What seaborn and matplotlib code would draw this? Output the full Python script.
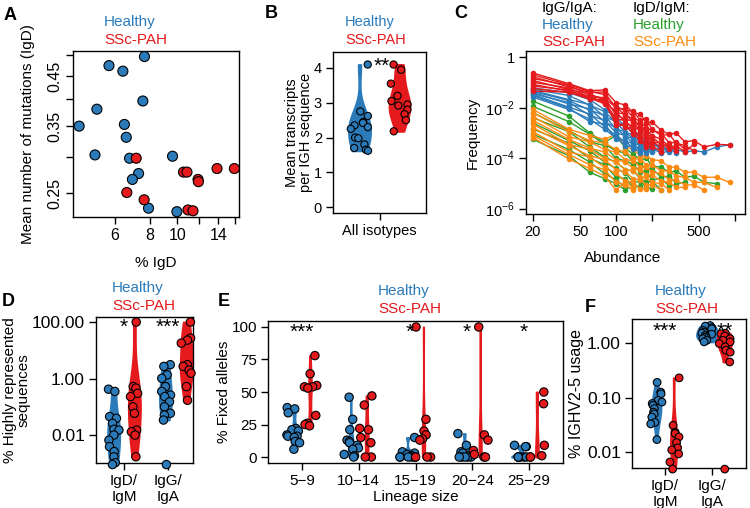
import numpy as np
import pandas as pd
import matplotlib
matplotlib.use('Agg')
import matplotlib.pyplot as plt
from matplotlib.ticker import NullLocator
from matplotlib.collections import PolyCollection
import seaborn as sns

# ---------------- data ----------------
# A: % IgD vs mean number of IgD mutations
a_healthy_igd = [4.47, 5.17, 5.09, 5.71, 6.40, 7.64, 7.54, 6.48, 6.58, 6.76, 9.62, 7.28, 6.92, 7.90, 9.97]
a_healthy_mut = [0.350, 0.381, 0.303, 0.474, 0.461, 0.496, 0.397, 0.353, 0.331, 0.298, 0.301, 0.276, 0.268, 0.232, 0.228]
a_ssc_igd = [7.14, 6.61, 7.62, 10.53, 10.83, 11.86, 11.90, 13.86, 15.98, 10.92, 11.38]
a_ssc_mut = [0.298, 0.251, 0.242, 0.278, 0.278, 0.268, 0.265, 0.283, 0.283, 0.230, 0.229]

# B: mean transcripts per IGH sequence
b_healthy = [4.10, 2.75, 2.62, 2.45, 2.42, 2.35, 2.30, 2.25, 2.00, 1.98, 1.80, 1.70, 1.65, 1.62]
b_ssc = [4.10, 3.95, 3.55, 3.20, 3.05, 2.95, 2.92, 2.80, 2.67, 2.50, 2.18]

# C: abundance / frequency curves (log10 frequency at each abundance)
c_abundance = [20, 40, 60, 80, 100, 120, 140, 160, 180, 200, 240, 280, 320, 380, 450, 550, 700, 900]
c_ssc_igga = [
    [-0.63, -1.05, -1.33, -1.30, -1.80, -1.90, -2.20, -2.25, -2.60, -2.55, -2.90, -3.05, -3.00, -3.35, -3.30, -3.55, -3.45, -3.47],
    [-0.70, -1.10, -1.36, -1.48, -1.97, -2.10, -2.15, -2.50, -2.45, -2.85, -3.10, -3.05, -3.40, -3.50, -3.70],
    [-0.78, -1.18, -1.40, -1.38, -2.05, -2.05, -2.40, -2.55, -2.80, -2.90, -3.00, -3.40, -3.35, -3.65],
    [-0.85, -1.12, -1.50, -1.65, -1.98, -2.30, -2.45, -2.75, -2.85, -3.10, -3.25, -3.55, -3.50, -3.75, -3.45],
    [-0.93, -1.28, -1.45, -1.72, -2.20, -2.25, -2.60, -2.70, -3.05, -3.15, -3.45, -3.50, -3.70],
    [-1.00, -1.22, -1.58, -1.60, -2.30, -2.45, -2.55, -2.95, -3.00, -3.35, -3.40, -3.65, -3.55],
    [-1.08, -1.35, -1.55, -1.80, -2.15, -2.60, -2.75, -2.90, -3.25, -3.30, -3.60],
    [-1.15, -1.30, -1.63, -1.75, -2.45, -2.50, -2.90, -3.15, -3.20, -3.55],
    [-1.24, -1.40, -1.62, -1.85, -2.55, -2.75, -2.85, -3.25, -3.45, -3.50, -3.75],
    [-1.35, -1.38, -1.67, -1.70, -2.70, -2.70, -3.05, -3.30, -3.55],
]
c_healthy_igga = [
    [-1.22, -1.41, -1.68, -2.08, -2.37, -2.75, -2.85, -3.15, -3.25, -3.45, -3.50, -3.70, -3.65, -3.75, -3.70, -3.75, -3.55, -3.47],
    [-1.27, -1.52, -1.90, -2.15, -2.60, -2.70, -3.05, -3.15, -3.45, -3.40, -3.65, -3.60, -3.80],
    [-1.32, -1.68, -1.88, -2.35, -2.55, -3.00, -3.05, -3.35, -3.40, -3.65, -3.60, -3.75],
    [-1.36, -1.72, -2.10, -2.30, -2.85, -2.95, -3.25, -3.30, -3.60, -3.60, -3.80, -3.70],
    [-1.40, -1.85, -2.05, -2.55, -2.80, -3.15, -3.20, -3.55, -3.50, -3.75],
    [-1.45, -1.80, -2.30, -2.50, -3.00, -3.10, -3.45, -3.45, -3.75, -3.70],
    [-1.48, -1.98, -2.25, -2.75, -3.10, -3.35, -3.40, -3.70, -3.65],
    [-1.52, -2.02, -2.55, -2.65, -3.25, -3.30, -3.65, -3.60, -3.80],
    [-1.58, -2.07, -2.45, -2.85, -3.20, -3.50, -3.55, -3.80],
]
c_healthy_igdm = [
    [-1.74, -2.33, -3.00, -3.37, -3.10, -3.60, -3.85, -4.05, -4.00, -4.30, -4.35, -4.55, -4.50, -4.75, -4.70, -4.95, -5.00],
    [-1.95, -2.55, -3.05, -3.45, -3.70, -3.80, -4.15, -4.20, -4.45, -4.40, -4.75, -4.70, -5.00, -4.95],
    [-2.20, -2.90, -3.35, -3.50, -4.00, -4.10, -4.25, -4.55, -4.50, -4.85, -4.80, -5.10],
    [-2.40, -2.95, -3.55, -3.95, -4.15, -4.45, -4.50, -4.80, -4.95, -4.90, -5.25],
    [-2.60, -3.30, -3.70, -4.15, -4.40, -4.60, -4.95, -4.90, -5.15, -5.20],
    [-2.85, -3.40, -4.00, -4.25, -4.75, -4.80, -5.15, -5.10],
    [-3.05, -3.65, -4.15, -4.60, -4.85, -5.15, -5.20],
    [-3.25, -3.90, -4.55, -4.80, -5.00, -5.25],
]
c_ssc_igdm = [
    [-2.07, -2.85, -3.10, -3.25, -3.05, -3.55, -3.65, -3.90, -3.90, -4.05, -4.10, -4.35, -4.35, -4.55, -4.55, -4.75, -4.75, -4.95],
    [-2.20, -2.95, -3.30, -3.40, -3.65, -3.75, -4.00, -4.05, -4.25, -4.25, -4.50, -4.50, -4.70, -4.75, -4.95, -4.95, -5.15],
    [-2.35, -3.15, -3.35, -3.65, -3.75, -4.05, -4.10, -4.35, -4.35, -4.55, -4.60, -4.85, -4.85, -5.05, -5.05, -5.25],
    [-2.50, -3.25, -3.60, -3.75, -4.05, -4.15, -4.40, -4.45, -4.65, -4.65, -4.90, -4.95, -5.15, -5.15],
    [-2.65, -3.45, -3.65, -4.00, -4.15, -4.45, -4.50, -4.75, -4.75, -4.95, -5.00, -5.25],
    [-2.80, -3.50, -3.90, -4.05, -4.45, -4.55, -4.80, -4.85, -5.05, -5.05, -5.25],
    [-2.95, -3.75, -3.95, -4.35, -4.60, -4.90, -4.95, -5.20, -5.20],
    [-3.10, -3.85, -4.25, -4.45, -4.95, -5.05, -5.25],
    [-3.18, -4.03, -4.40, -4.70, -5.25, -4.95, -5.15],
]

# D: % highly represented sequences (values at the floor are zeros drawn on the axis)
iso_labels = ['IgD/\nIgM', 'IgG/\nIgA']
d_igdm_healthy = [0.42, 0.35, 0.045, 0.039, 0.026, 0.016, 0.015, 0.010, 0.0066, 0.0039, 0.0026, 0.0017, 0.00105, 0.0009]
d_igdm_ssc = [100, 0.52, 0.46, 0.30, 0.23, 0.10, 0.059, 0.015, 0.013, 0.010, 0.0017]
d_igga_healthy = [3.1, 2.7, 1.35, 1.02, 0.52, 0.35, 0.26, 0.23, 0.15, 0.10, 0.059, 0.051, 0.034]
d_igga_ssc = [100, 27, 23, 18, 3.1, 2.7, 2.0, 1.55, 0.52, 0.17]
d_zero_healthy_igga = [0.0009]

# E: % fixed alleles by lineage size
e_sizes = ['5\u22129', '10\u221214', '15\u221219', '20\u221224', '25\u221229']
e_healthy = [
    [38, 37, 34, 22, 21, 20, 17, 16, 16, 15, 12, 11, 6],
    [46, 29, 21, 13, 12, 11, 9, 7, 6, 2, 1, 0],
    [15, 4, 3, 2, 1, 0, 0, 0, 0, 0, 0],
    [18, 9, 4, 3, 1, 0, 0, 0, 0, 0],
    [9, 8, 8, 0, 0, 0, 0, 0, 0, 0],
]
e_ssc = [
    [78, 64, 55, 54, 54, 53, 32, 26, 25, 24],
    [47, 40, 22, 21, 15, 11, 0, 0],
    [100, 29, 20, 17, 14, 13, 0, 0, 0],
    [100, 17, 13, 5, 2, 0, 0],
    [50, 41, 9, 1, 0, 0],
]
e_stars = ['***', '', '*', '*', '*']

# F: % IGHV2-5 usage
f_igdm_healthy = [0.19, 0.126, 0.117, 0.089, 0.083, 0.078, 0.072, 0.063, 0.054, 0.050, 0.044, 0.035, 0.033, 0.017]
f_igdm_ssc = [0.23, 0.031, 0.023, 0.022, 0.019, 0.015, 0.012, 0.011, 0.0093, 0.0066, 0.0049]
f_igga_healthy = [2.09, 2.04, 1.90, 1.82, 1.70, 1.58, 1.51, 1.45, 1.38, 1.30, 1.26, 1.20, 1.12, 1.05]
f_igga_ssc = [1.51, 1.48, 1.35, 1.20, 1.12, 1.05, 0.98, 0.85, 0.74, 0.68, 0.45]
f_zero_ssc_igga = [0.0049]

# ---------------- style ----------------
sns.set_style('ticks')
plt.rcParams['font.family'] = ['Liberation Sans', 'DejaVu Sans']
plt.rcParams['mathtext.fontset'] = 'custom'
plt.rcParams['mathtext.rm'] = 'Liberation Sans'
for k in ['text.color', 'axes.labelcolor', 'xtick.color', 'ytick.color', 'axes.edgecolor']:
    plt.rcParams[k] = 'black'

BLUE = '#2B7BBA'
RED = '#E41A1C'
GREEN = '#2CA02C'
ORANGE = '#FF8A12'
pal = {'Healthy': BLUE, 'SSc-PAH': RED}

W, H = 750, 508
fig = plt.figure(figsize=(7.5, 5.08), dpi=100)


def add_ax(x0, y0, x1, y1):
    return fig.add_axes([x0 / W, 1 - y1 / H, (x1 - x0) / W, (y1 - y0) / H])


def ftext(x, y, s, **kw):
    fig.text(x / W, 1 - y / H, s, **kw)


def style_ax(ax, fs=11):
    for sp in ax.spines.values():
        sp.set_visible(True)
        sp.set_linewidth(1.0)
    ax.tick_params(direction='out', length=5, width=1, labelsize=fs, pad=3)
    ax.xaxis.set_minor_locator(NullLocator())
    ax.yaxis.set_minor_locator(NullLocator())


def legend_text(x, y, fs=11):
    ftext(x, y, 'Healthy', color=BLUE, fontsize=fs, va='center')
    ftext(x, y + 18, 'SSc-PAH', color=RED, fontsize=fs, va='center')


def violin_df(groups):
    rows = []
    for pos, grp, vals in groups:
        for v in vals:
            rows.append({'pos': pos, 'group': grp, 'val': v})
    return pd.DataFrame(rows)


def violins(ax, vdf, sdf, width, jitter, size, norm='area', common=True, bw=1.0):
    sns.violinplot(data=vdf, x='pos', y='val', hue='group', palette=pal, native_scale=True,
                   orient='x', dodge=False, cut=0, inner=None, linewidth=0, width=width,
                   density_norm=norm, common_norm=common, bw_adjust=bw, saturation=1,
                   legend=False, ax=ax)
    # outline each violin in its own colour so the thin tails stay visible
    for coll in ax.collections:
        if isinstance(coll, PolyCollection):
            coll.set_edgecolor(coll.get_facecolor())
            coll.set_linewidth(1.4)
    sns.stripplot(data=sdf, x='pos', y='val', hue='group', palette=pal, native_scale=True,
                  orient='x', dodge=False, jitter=jitter, size=size, edgecolor='black',
                  linewidth=0.8, legend=False, ax=ax, clip_on=False, zorder=3)


def stars(ax, x, y, s, fs=15):
    ax.annotate(s, (x, y), xytext=(0, -8), textcoords='offset points', ha='center',
                va='baseline', fontsize=fs, annotation_clip=False)


np.random.seed(4)

# ---------------- A ----------------
a_df = pd.DataFrame({
    'igd': a_healthy_igd + a_ssc_igd,
    'mut': a_healthy_mut + a_ssc_mut,
    'group': ['Healthy'] * len(a_healthy_igd) + ['SSc-PAH'] * len(a_ssc_igd),
})
ax = add_ax(73, 51, 239, 217)
ax.set_xscale('log')
ax.set_yscale('log')
sns.scatterplot(data=a_df, x='igd', y='mut', hue='group', palette=pal, s=52,
                edgecolor='black', linewidth=0.8, legend=False, ax=ax, zorder=3)
ax.set_xlim(4.25, 16.6)
ax.set_ylim(0.222, 0.51)
ax.set_xticks([6, 8, 10, 12, 14, 16])
ax.set_xticklabels(['6', '8', '10', '', '14', ''])
ax.set_yticks([0.25, 0.30, 0.35, 0.40, 0.45, 0.50])
ax.set_yticklabels(['0.25', '', '0.35', '', '0.45', ''])
style_ax(ax, 11.5)
ax.tick_params(axis='y', labelrotation=90)
for t in ax.get_yticklabels():
    t.set_va('center')
ax.set_xlabel('% IgD', fontsize=11)
ax.set_ylabel('Mean number of mutations (IgD)', fontsize=11)
ax.xaxis.set_label_coords(0.5, -0.235)
ax.yaxis.set_label_coords(-0.23, 0.5)
legend_text(104, 22)
ftext(10, 16, 'A', fontsize=13, fontweight='bold', ha='center', va='center')

# ---------------- B ----------------
off_b = 0.215
b_v = violin_df([(-off_b, 'Healthy', b_healthy), (off_b, 'SSc-PAH', b_ssc)])
ax = add_ax(333, 52, 426, 213)
violins(ax, b_v, b_v, width=0.55, jitter=0.22, size=5.2)
ax.set_xlim(-0.5, 0.5)
ax.set_ylim(-0.17, 4.46)
ax.set_xticks([0])
ax.set_xticklabels(['All isotypes'])
ax.set_yticks([0, 1, 2, 3, 4])
style_ax(ax, 10.5)
ax.set_xlabel('')
ax.set_ylabel('Mean transcripts\nper IGH sequence', fontsize=10.5, linespacing=1.0)
ax.yaxis.set_label_coords(-0.22, 0.5)
stars(ax, 0.02, 4.2, '**')
legend_text(345, 22, 10.5)
ftext(271, 14, 'B', fontsize=13, fontweight='bold', ha='center', va='center')

# ---------------- C ----------------
c_groups = [('IgD/IgM Healthy', c_healthy_igdm), ('IgD/IgM SSc-PAH', c_ssc_igdm),
            ('IgG/IgA Healthy', c_healthy_igga), ('IgG/IgA SSc-PAH', c_ssc_igga)]
c_pal = {'IgD/IgM Healthy': GREEN, 'IgD/IgM SSc-PAH': ORANGE,
         'IgG/IgA Healthy': BLUE, 'IgG/IgA SSc-PAH': RED}
rows = []
for grp, series in c_groups:
    for i, s in enumerate(series):
        for a, v in zip(c_abundance, s):
            rows.append({'group': grp, 'series': f'{grp} {i}', 'abundance': a, 'freq': 10 ** v})
c_df = pd.DataFrame(rows)
ax = add_ax(526, 51, 745, 214)
ax.set_xscale('log')
ax.set_yscale('log')
sns.lineplot(data=c_df, x='abundance', y='freq', hue='group', units='series', estimator=None,
             hue_order=[g for g, _ in c_groups], palette=c_pal, marker='o', markersize=4,
             markeredgewidth=0, linewidth=1.0, sort=False, legend=False, ax=ax)
ax.set_xlim(17.5, 1214)
ax.set_ylim(10 ** -6.2, 10 ** 0.237)
ax.set_xticks([20, 50, 100, 200, 500, 1000])
ax.set_xticklabels(['20', '50', '100', '', '500', ''])
ax.set_yticks([1, 1e-2, 1e-4, 1e-6])
ax.set_yticklabels(['1', r'10$^{-2}$', r'10$^{-4}$', r'10$^{-6}$'])
style_ax(ax, 10.5)
ax.set_xlabel('Abundance', fontsize=11)
ax.set_ylabel('Frequency', fontsize=11)
ax.xaxis.set_label_coords(0.44, -0.225)
ftext(542, 8, 'IgG/IgA:', fontsize=11, va='center')
ftext(542, 25, 'Healthy', fontsize=11, va='center', color=BLUE)
ftext(542, 42, 'SSc-PAH', fontsize=11, va='center', color=RED)
ftext(633, 8, 'IgD/IgM:', fontsize=11, va='center')
ftext(633, 25, 'Healthy', fontsize=11, va='center', color=GREEN)
ftext(633, 42, 'SSc-PAH', fontsize=11, va='center', color=ORANGE)
ftext(461, 13, 'C', fontsize=13, fontweight='bold', ha='center', va='center')

# ---------------- D ----------------
off_d = 0.2
d_v = violin_df([(-off_d, 'Healthy', d_igdm_healthy), (off_d, 'SSc-PAH', d_igdm_ssc),
                 (1 - off_d, 'Healthy', d_igga_healthy), (1 + off_d, 'SSc-PAH', d_igga_ssc)])
d_s = pd.concat([d_v, violin_df([(1 - off_d, 'Healthy', d_zero_healthy_igga)])])
ax = add_ax(96, 317, 193, 463)
ax.set_yscale('log')
violins(ax, d_v, d_s, width=0.58, jitter=0.29, size=6, norm='width')
ax.set_xlim(-0.54, 1.33)
ax.set_ylim(10 ** -2.99, 10 ** 2.18)
ax.set_xticks([0, 0.85])
ax.set_xticklabels(iso_labels)
ax.set_yticks([0.01, 1, 100])
ax.set_yticklabels(['0.01', '1.00', '100.00'])
style_ax(ax, 12.5)
ax.tick_params(axis='x', labelsize=11)
ax.set_xlabel('')
ax.set_ylabel('% Highly represented\nsequences', fontsize=11, linespacing=1.0)
ax.yaxis.set_label_coords(-0.67, 0.5)
stars(ax, 0, 100, '*')
stars(ax, 0.85, 100, '***')
legend_text(112, 288)
ftext(8, 302, 'D', fontsize=13, fontweight='bold', ha='center', va='center')

# ---------------- E ----------------
off_e = 0.14
e_groups = []
for i in range(len(e_sizes)):
    e_groups.append((i - off_e, 'Healthy', e_healthy[i]))
    e_groups.append((i + off_e, 'SSc-PAH', e_ssc[i]))
e_v = violin_df(e_groups)
ax = add_ax(268, 321, 563, 463)
violins(ax, e_v, e_v, width=1.2, jitter=0.5, size=6, bw=0.8)
ax.set_xlim(-0.6, 4.6)
ax.set_ylim(-4.6, 104.6)
ax.set_xticks(range(len(e_sizes)))
ax.set_xticklabels(e_sizes)
ax.set_yticks([0, 25, 50, 75, 100])
style_ax(ax, 11)
ax.set_xlabel('Lineage size', fontsize=11)
ax.set_ylabel('% Fixed alleles', fontsize=11)
ax.xaxis.set_label_coords(0.5, -0.19)
ax.yaxis.set_label_coords(-0.125, 0.5)
for i, s in enumerate(e_stars):
    if s:
        stars(ax, i - (0 if len(s) > 1 else 0.1), 100, s)
legend_text(378, 291)
ftext(224, 302, 'E', fontsize=13, fontweight='bold', ha='center', va='center')

# ---------------- F ----------------
off_f = 0.17
f_v = violin_df([(-off_f, 'Healthy', f_igdm_healthy), (off_f, 'SSc-PAH', f_igdm_ssc),
                 (1 - off_f, 'Healthy', f_igga_healthy), (1 + off_f, 'SSc-PAH', f_igga_ssc)])
f_s = pd.concat([f_v, violin_df([(1 + off_f, 'SSc-PAH', f_zero_ssc_igga)])])
ax = add_ax(632, 319, 746, 468)
ax.set_yscale('log')
violins(ax, f_v, f_s, width=1.25, jitter=0.35, size=5.5)
ax.set_xlim(-0.65, 1.59)
ax.set_ylim(10 ** -2.29, 10 ** 0.44)
ax.set_xticks([0, 0.92])
ax.set_xticklabels(iso_labels)
ax.set_yticks([0.01, 0.1, 1])
ax.set_yticklabels(['0.01', '0.10', '1.00'])
style_ax(ax, 12.5)
ax.tick_params(axis='x', labelsize=11)
ax.set_xlabel('')
ax.set_ylabel('% IGHV2-5 usage', fontsize=11.5)
ax.yaxis.set_label_coords(-0.42, 0.5)
stars(ax, 0, 2.1, '***')
stars(ax, 1.18, 2.1, '**')
legend_text(655, 291)
ftext(590, 307, 'F', fontsize=13, fontweight='bold', ha='center', va='center')

fig.savefig('out.png', dpi=100)
